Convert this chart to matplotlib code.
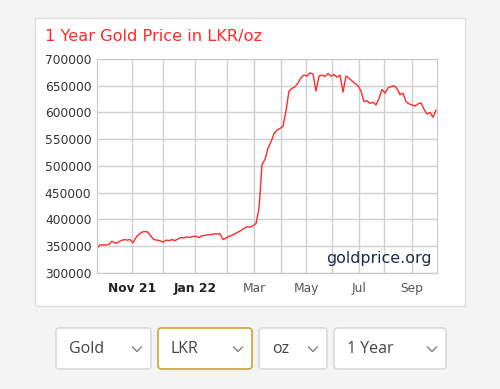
import numpy as np
import matplotlib
matplotlib.use("Agg")
from matplotlib import pyplot as plt
from matplotlib.patches import FancyBboxPatch, Rectangle
from matplotlib.lines import Line2D

# gold price in LKR/oz, one sample every ~3 days
price = [346, 352, 352, 352, 353, 359, 355, 357, 360, 362, 361, 362, 356, 366, 372,
         376, 377, 376, 368, 362, 361, 360, 357, 361, 360, 362, 360, 363, 366, 365,
         367, 366, 368, 368, 366, 369, 370, 371, 371, 373, 372, 373, 362, 365, 368,
         370, 373, 376, 379, 383, 386, 385, 388, 392, 420, 502, 512, 533, 545, 560,
         567, 570, 574, 603, 640, 645, 648, 655, 665, 670, 668, 674, 672, 640, 668,
         670, 667, 673, 668, 671, 666, 670, 638, 668, 664, 659, 654, 650, 640, 620,
         622, 617, 619, 614, 626, 643, 636, 646, 648, 650, 645, 633, 636, 620, 616,
         614, 612, 616, 618, 606, 597, 600, 591, 604]
price = np.array(price) * 1000

# month gridlines (in sample units) and their labels
month_pos = [11.57, 21.9, 32.67, 43.33, 52.33, 61.23, 69.67, 78.33, 87.33, 95.67, 104.9]
month_lab = ["Nov 21", "", "Jan 22", "", "Mar", "", "May", "", "Jul", "", "Sep"]
yticks = [300000, 350000, 400000, 450000, 500000, 550000, 600000, 650000, 700000]

dropdowns = ["Gold", "LKR", "oz", "1 Year"]

W, H = 500, 389
fig = plt.figure(figsize=(5, 3.89), dpi=100)
fig.patch.set_facecolor("#f4f4f4")

def fx(x):
    return x / W

def fy(y):
    return 1 - y / H

# white chart panel
fig.add_artist(Rectangle((fx(35), fy(306)), fx(430), 288 / H, transform=fig.transFigure,
                         facecolor="white", edgecolor="#dddddd", lw=1, zorder=-5))

ax = fig.add_axes([fx(97), fy(272.7), fx(340), 213.7 / H])
ax.set_zorder(3)
x = np.arange(len(price))
ax.plot(x, price, color="#ff2a2a", lw=1.0)
ax.set_xlim(0, 340 / 3)
ax.set_ylim(300000, 700000)
ax.set_yticks(yticks)
ax.set_yticklabels([str(v) for v in yticks], fontsize=8.8, color="#333333")
ax.set_xticks(month_pos)
ax.set_xticklabels(month_lab, fontsize=8.8, color="#555555")
for lab in ax.get_xticklabels()[:3]:
    lab.set_fontweight("bold")
    lab.set_color("#222222")
ax.tick_params(length=0, pad=4)
ax.tick_params(axis="x", pad=7)
ax.grid(True, color="#cfcfcf", lw=1)
ax.set_axisbelow(True)
for s in ax.spines.values():
    s.set_color("#c8c8c8")
ax.text(0.985, 0.03, "goldprice.org", transform=ax.transAxes, ha="right", va="bottom",
        fontsize=11.4, color="#1b2a4a")

fig.text(fx(45), fy(37), "1 Year Gold Price in LKR/oz", color="#ff2a2a", fontsize=11.7,
         va="center", ha="left")

# dropdown controls under the chart
boxes = [(56, 151), (158, 252), (259, 327), (334, 446)]
for i, (name, (x0, x1)) in enumerate(zip(dropdowns, boxes)):
    ec = "#c9a43a" if name == "LKR" else "#d9d9d9"
    fig.add_artist(FancyBboxPatch((fx(x0), fy(369)), fx(x1 - x0), 41 / H,
                                  boxstyle="round,pad=0,rounding_size=0.008",
                                  transform=fig.transFigure, facecolor="white",
                                  edgecolor=ec, lw=1.2))
    fig.text(fx(x0 + 13), fy(349), name, fontsize=11.5, family="Open Sans",
             color="#444444", va="center", ha="left")
    cx = x1 - 14
    fig.add_artist(Line2D([fx(cx - 4.5), fx(cx), fx(cx + 4.5)], [fy(347), fy(351.5), fy(347)],
                          transform=fig.transFigure, color="#777777", lw=0.9))

fig.savefig("out.png", dpi=100)
